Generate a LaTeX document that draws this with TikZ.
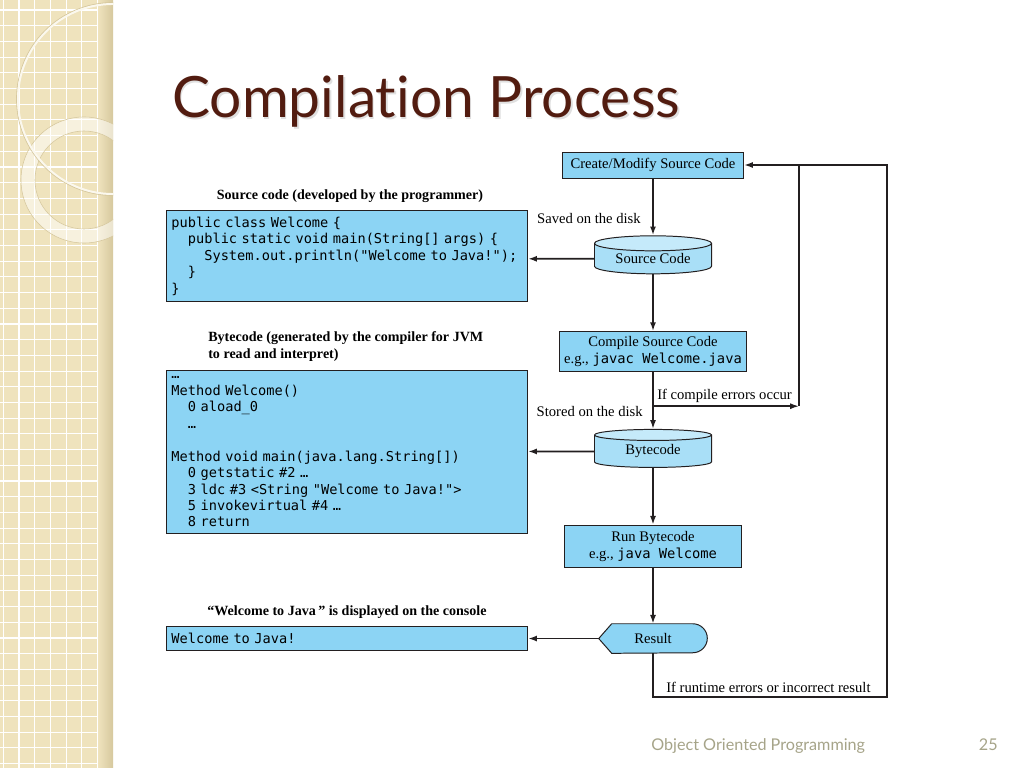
\documentclass[tikz,border=0pt]{standalone}
\usepackage{fontspec}
\setmainfont{Liberation Serif}
\setmonofont{DejaVu Sans Mono}
\newfontfamily\slidefont{Lato}[Ligatures={NoCommon}]
\usetikzlibrary{positioning,arrows.meta,calc,shapes.geometric,backgrounds}

\definecolor{boxblue}{HTML}{8CD4F4}
\definecolor{inkline}{HTML}{231F20}
\definecolor{panelbeige}{HTML}{EFE3BD}
\definecolor{panelshade}{HTML}{D6C89E}
\definecolor{titlebrown}{HTML}{521C10}
\definecolor{footgray}{HTML}{A6A489}

\newcommand{\codefont}{\fontsize{9.7}{11.7}\selectfont\ttfamily}
\newcommand{\cmdfont}{\fontsize{9.8}{12}\selectfont\ttfamily}
\newcommand{\flowfont}{\fontsize{10.4}{12.2}\selectfont}
\newcommand{\headfont}{\fontsize{10}{12.2}\selectfont\bfseries}

\begin{document}
\begin{tikzpicture}[
        x=0.025cm, y=-0.025cm,
        node distance=1.42cm,
        code/.style={draw=inkline, line width=0.7pt, fill=boxblue, anchor=north west, minimum width=9.025cm, text width=8.775cm, inner xsep=0.125cm, inner ysep=0pt, align=left, font=\codefont},
        flow/.style={draw=inkline, line width=0.7pt, fill=boxblue, align=center, inner sep=0pt, font=\flowfont},
        disk/.style={cylinder, shape border rotate=90, aspect=0.2, draw=inkline, line width=0.7pt, cylinder uses custom fill, cylinder body fill=boxblue!75!white, cylinder end fill=boxblue!50!white, minimum width=2.925cm, minimum height=0.95cm, inner sep=0pt, font=\flowfont},
        lbl/.style={inner sep=0pt, font=\flowfont},
        head/.style={inner sep=0pt, font=\headfont},
        wire/.style={draw=inkline, line width=1.2pt},
        arr/.style={-{Latex[length=0.22cm,width=0.15cm]}, draw=inkline, line width=1.2pt}
      ]

      \useasboundingbox (0,0) rectangle (1024,768);
      \begin{scope}[on background layer]
        \fill[white] (0,0) rectangle (1024,768);
      \end{scope}

      % Left panel
      \begin{scope}
        \clip (0,0) rectangle (113,768);
        \fill[panelbeige] (0,0) rectangle (113,768);
        \foreach \gx in {3.3,19,...,113} \draw[white, line width=0.8pt] (\gx,0) -- (\gx,768);
        \foreach \gy in {10,25.7,...,768} \draw[white, line width=0.8pt] (0,\gy) -- (113,\gy);
        \shade[left color=panelbeige, right color=panelshade] (98,0) rectangle (113,768);
        \draw[white, opacity=0.5, line width=0.35cm] (84,180) circle[radius=1.4cm];
        \draw[panelshade, line width=0.4pt] (84,180) circle[radius=1.575cm] (84,180) circle[radius=1.225cm];
        \draw[panelshade, line width=0.6pt] (113,99) circle[radius=2.41cm];
        \draw[white!75!panelbeige, line width=1.4pt] (113,99) circle[radius=2.375cm];
      \end{scope}

      % Title and footer
      \node[anchor=base west, inner sep=0pt, font=\slidefont\fontsize{40.5}{44}\selectfont, text=black, opacity=0.12] (titleshadow) at (173.5,119.5) {Compilation Process};
      \node[anchor=base west, inner sep=0pt, font=\slidefont\fontsize{40.5}{44}\selectfont, text=titlebrown] (title) at (172,118) {Compilation Process};
      \node[anchor=base west, inner sep=0pt, font=\slidefont\fontsize{11.5}{14}\selectfont, text=footgray] (course) at (651,750) {Object Oriented Programming};
      \node[anchor=base east, inner sep=0pt, font=\slidefont\fontsize{11.5}{14}\selectfont, text=footgray] (pageno) at (998,750) {25};

      % Flow on the right
      \node[flow, minimum width=4.525cm, minimum height=0.65cm] (create) at (653,165) {Create/Modify Source Code};
      \node[disk, below=of create] (src) {Source Code};
      \node[flow, minimum width=4.675cm, minimum height=1cm, below=of src] (compile) {Compile Source Code\\e.g., {\cmdfont javac Welcome.java}};
      \node[disk, below=of compile] (byte) {Bytecode};
      \node[flow, minimum width=4.4cm, minimum height=1.05cm, below=of byte] (run) {Run Bytecode\\e.g., {\cmdfont java Welcome}};
      \node[minimum width=2.7cm, minimum height=0.725cm, inner sep=0pt, font=\flowfont, below=1.4cm of run] (res) {Result};
      \begin{scope}[on background layer]
        \draw[draw=inkline, line width=0.7pt, fill=boxblue] (res.west) -- ($(res.north west)+(13,0)$) -- ($(res.north east)+(-14.5,0)$) arc[start angle=90, end angle=-90, radius=0.3625cm] -- ($(res.south west)+(13,0)$) -- cycle;
      \end{scope}

      \draw[arr] (create) -- (src);
      \draw[arr] (src) -- (compile);
      \draw[arr] (compile) -- (byte);
      \draw[arr] (byte) -- (run);
      \draw[arr] (run) -- (res);

      % Error loops
      \coordinate (brk) at ($(compile.south)!0.6!(byte.north)$);
      \coordinate (loopA) at ($(create.east)+(55,0)$);
      \coordinate (loopB) at ($(create.east)+(143,0)$);
      \draw[arr] (brk) -- (brk -| loopA);
      \draw[wire] (brk -| loopA) -- (loopA);
      \draw[arr] (res.south) -- ++(0,44) -| (loopB) -- (create.east);

      \node[lbl, anchor=base east] (saved) at (641,223) {Saved on the disk};
      \node[lbl, anchor=base east] (stored) at (643,416) {Stored on the disk};
      \node[lbl, anchor=base west] (cerr) at (657,399) {If compile errors occur};
      \node[lbl, anchor=base west] (rerr) at (666,692) {If runtime errors or incorrect result};

      % Code on the left
      \node[head, anchor=base] (srchead) at (350,199) {Source code (developed by the programmer)};
      \node[code, minimum height=2.275cm] (code1) at (166,210) {public class Welcome \{\\
        \phantom{xx}public static void main(String[] args) \{\\
        \phantom{xxxx}System.out.println("Welcome to Java!");\\
        \phantom{xx}\}\\
        \}};

      \node[head, anchor=north west, align=left] (bchead) at (208,331) {Bytecode (generated by the compiler for JVM\\to read and interpret)};
      \node[code, minimum height=4.075cm] (code2) at (166,370) {…\\
        Method Welcome()\\
        \phantom{xx}0 aload\_0\\
        \phantom{xx}…\\
        \mbox{}\\
        Method void main(java.lang.String[])\\
        \phantom{xx}0 getstatic \#2 …\\
        \phantom{xx}3 ldc \#3 <String "Welcome to Java!">\\
        \phantom{xx}5 invokevirtual \#4 …\\
        \phantom{xx}8 return};

      \node[head, anchor=base] (conhead) at (347,615) {“Welcome to Java\,” is displayed on the console};
      \node[code, minimum height=0.6cm] (code3) at (166,626) {Welcome to Java!};

      \draw[arr] (src) -- (src -| code1.east);
      \draw[arr] (byte) -- (byte -| code2.east);
      \draw[arr] (res.west) -- (res.west -| code3.east);

\end{tikzpicture}
\end{document}
